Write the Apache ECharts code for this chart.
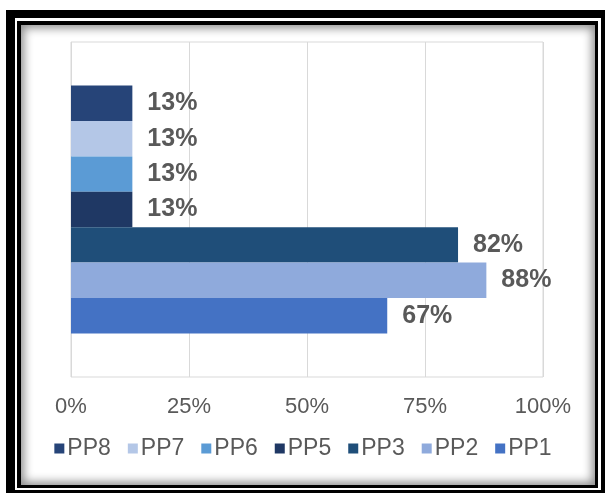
<!DOCTYPE html>
<html>
<head>
<meta charset="utf-8">
<script src="https://cdn.jsdelivr.net/npm/echarts@6/dist/echarts.min.js"></script>
<style>
html,body{margin:0;padding:0;background:#fff;width:606px;height:493px;overflow:hidden;}
.b{position:absolute;box-sizing:border-box;}
#f1{left:6px;top:10px;width:599px;height:483px;background:#000;}
#f2{left:15px;top:18px;width:586px;height:472px;background:#fff;}
#f3{left:17px;top:21px;width:581px;height:467px;background:#000;}
#f4{left:21px;top:25px;width:574px;height:460px;background:#fff;box-shadow:inset 0 0 10px 3px rgba(0,0,0,0.45);}
#chart{position:absolute;left:0;top:0;width:606px;height:493px;}
</style>
</head>
<body>
<div class="b" id="f1"></div>
<div class="b" id="f2"></div>
<div class="b" id="f3"></div>
<div class="b" id="f4"></div>
<div id="chart"></div>
<script>
// Data (top-to-bottom drawing order: PP8 first)
const seriesNames = ['PP8', 'PP7', 'PP6', 'PP5', 'PP3', 'PP2', 'PP1'];
const seriesValues = [13, 13, 13, 13, 82, 88, 67];
const seriesColors = ['#264478', '#b4c7e7', '#5b9bd5', '#1f3864', '#1f4e79', '#8faadc', '#4472c4'];
const legendOrder = ['PP8', 'PP7', 'PP6', 'PP5', 'PP3', 'PP2', 'PP1'];
const categories = [''];
const xTicks = [0, 25, 50, 75, 100];

const chart = echarts.init(document.getElementById('chart'), null, {renderer: 'canvas'});
const font = '"Liberation Sans", Arial, sans-serif';
chart.setOption({
  animation: false,
  textStyle: {fontFamily: font},
  grid: {left: 71, right: 63, top: 42, bottom: 116, show: true, borderColor: '#d9d9d9', borderWidth: 1},
  legend: {
    data: legendOrder,
    bottom: 28,
    left: 'center',
    itemWidth: 10, itemHeight: 10, itemGap: 17,
    icon: 'rect',
    textStyle: {color: '#595959', fontSize: 23, fontFamily: font, padding: [0,0,0,-2]}
  },
  xAxis: {
    type: 'value', min: xTicks[0], max: xTicks[xTicks.length-1], interval: 25,
    axisLine: {show: false}, axisTick: {show: false},
    axisLabel: {formatter: '{value}%', color: '#595959', fontSize: 22, margin: 19, fontFamily: font},
    splitLine: {lineStyle: {color: '#d9d9d9', width: 1}}
  },
  yAxis: {
    type: 'category', data: categories,
    axisLine: {show: false}, axisTick: {show: false}, axisLabel: {show: false}
  },
  series: seriesNames.map((n, i) => ({
    name: n, type: 'bar', data: [seriesValues[i]],
    barGap: '0%', barCategoryGap: '26%',
    itemStyle: {color: seriesColors[i]},
    label: {show: true, position: 'right', distance: 15, formatter: '{c}%',
      color: '#595959', fontSize: 25, fontWeight: 'bold', fontFamily: font}
  }))
});
</script>
</body>
</html>
